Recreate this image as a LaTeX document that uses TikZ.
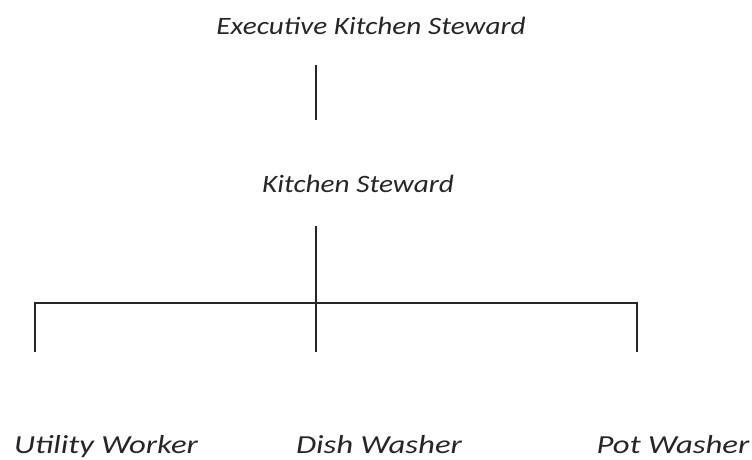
\documentclass[tikz,border=0pt]{standalone}
\usepackage{fontspec}
\setmainfont{Carlito}
\newfontfamily\widetitle[FakeStretch=1.17]{Carlito}
\newfontfamily\widelabel[FakeStretch=1.26]{Carlito}
\begin{document}
\begin{tikzpicture}[x=1pt,y=-1pt,
  role/.style={text=black!85, inner sep=0pt, anchor=base},
  upper/.style={role, font=\widetitle\fontsize{25}{30}\selectfont\itshape},
  lower/.style={role, font=\widelabel\fontsize{26}{30}\selectfont\itshape},
  link/.style={line width=1.6pt, black!85}]
\useasboundingbox (0,0) rectangle (752,459);
% titles
\node[upper] (exec) at (371,34) {Executive Kitchen Steward};
\node[upper] (ks) at (358,192) {Kitchen Steward};
\node[lower] (uw) at (106,453) {Utility Worker};
\node[lower] (dw) at (379,453) {Dish Washer};
\node[lower] (pw) at (673,453) {Pot Washer};
% connector points
\coordinate (a1) at (316,65);
\coordinate (a2) at (316,120);
\coordinate (b1) at (316,226);
\coordinate (l) at (35,303);
\coordinate (r) at (637,303);
\coordinate (lend) at (35,352);
\coordinate (mend) at (316,352);
\coordinate (rend) at (637,352);
\draw[link] (a1) -- (a2);
\draw[link] (b1) -- (mend);
\draw[link] (lend) -- (l) -- (r) -- (rend);
\end{tikzpicture}
\end{document}
